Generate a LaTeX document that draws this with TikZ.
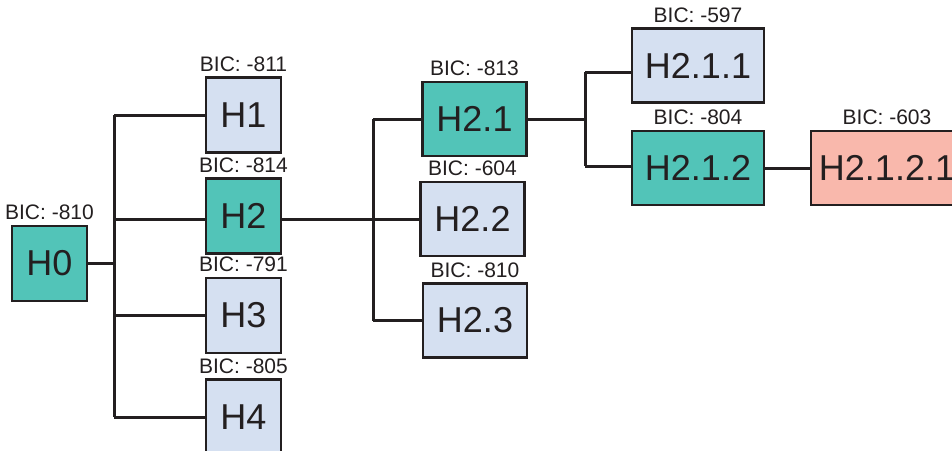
\documentclass[tikz,border=0pt]{standalone}
\usepackage{fontspec}
\setmainfont{Liberation Sans}
\definecolor{teal}{HTML}{52C4B8}
\definecolor{lblue}{HTML}{D5E0F1}
\definecolor{salmon}{HTML}{F9B8AC}
\definecolor{edge}{HTML}{231F20}
\tikzset{
  hbox/.style={draw=edge, line width=2.6pt, inner sep=0pt, font=\fontsize{36}{36}\selectfont, text=edge},
  sq/.style={hbox, minimum width=75pt, minimum height=75pt},
  wide/.style={hbox, minimum width=104pt, minimum height=74pt},
  wider/.style={hbox, minimum width=132pt, minimum height=74pt},
  lbl/.style={font=\fontsize{21}{21}\selectfont, text=edge, inner sep=0pt, anchor=base},
  conn/.style={draw=edge, line width=3pt},
}
\begin{document}
\begin{tikzpicture}[x=1pt,y=-1pt]
\clip (0,0) rectangle (952,450);
\fill[white] (0,0) rectangle (952,450);
% nodes
\node[sq, fill=teal] (H0) at (49.5,263.5) {H0};
\node[sq, fill=lblue] (H1) at (243.5,115) {H1};
\node[sq, fill=teal] (H2) at (243.5,216) {H2};
\node[sq, fill=lblue] (H3) at (243.5,315.5) {H3};
\node[sq, fill=lblue] (H4) at (243.5,417) {H4};
\node[wide, fill=teal] (H21) at (474.5,119) {H2.1};
\node[wide, fill=lblue] (H22) at (472.5,219) {H2.2};
\node[wide, fill=lblue] (H23) at (475,320.5) {H2.3};
\node[wider, fill=lblue] (H211) at (698,65.5) {H2.1.1};
\node[wider, fill=teal] (H212) at (698,168) {H2.1.2};
\node[hbox, fill=salmon, minimum width=152pt, minimum height=74pt] (H2121) at (887,168) {H2.1.2.1};
% labels
\node[lbl] (L0) at ([yshift=5pt]H0.north) {BIC: -810};
\node[lbl] (L1) at ([yshift=5pt]H1.north) {BIC: -811};
\node[lbl] (L2) at ([yshift=5pt]H2.north) {BIC: -814};
\node[lbl] (L3) at ([yshift=5pt]H3.north) {BIC: -791};
\node[lbl] (L4) at ([yshift=5pt]H4.north) {BIC: -805};
\node[lbl] (L21) at ([yshift=5pt]H21.north) {BIC: -813};
\node[lbl] (L22) at ([yshift=5pt]H22.north) {BIC: -604};
\node[lbl] (L23) at ([yshift=5pt]H23.north) {BIC: -810};
\node[lbl] (L211) at ([yshift=5pt]H211.north) {BIC: -597};
\node[lbl] (L212) at ([yshift=5pt]H212.north) {BIC: -804};
\node[lbl] (L2121) at ([yshift=5pt]H2121.north) {BIC: -603};
% trunk coordinates
\coordinate (t1a) at (114,115);
\coordinate (t1b) at (114,417);
\coordinate (t2a) at (373,119);
\coordinate (t2b) at (373,320.5);
\coordinate (t3a) at (585,72);
\coordinate (t3b) at (585,166);
% connectors
\draw[conn] (t1a) -- (t1b);
\draw[conn] (H0.east) -- (H0.east -| t1a);
\draw[conn] (H1.west -| t1a) -- (H1.west);
\draw[conn] (H22.west -| t1a) -- (H22.west -| H2.west);
\draw[conn] (H3.west -| t1a) -- (H3.west);
\draw[conn] (H4.west -| t1a) -- (H4.west);
\draw[conn] (t2a) -- (t2b);
\draw[conn] (H22.west -| H2.east) -- (H22.west);
\draw[conn] (t2a) -- (H21.west);
\draw[conn] (t2b) -- (H23.west);
\draw[conn] (t3a) -- (t3b);
\draw[conn] (H21.east) -- (H21.east -| t3a);
\draw[conn] (t3a) -- (t3a -| H211.west);
\draw[conn] (t3b) -- (t3b -| H212.west);
\draw[conn] (H212.east) -- (H2121.west);
\end{tikzpicture}
\end{document}
